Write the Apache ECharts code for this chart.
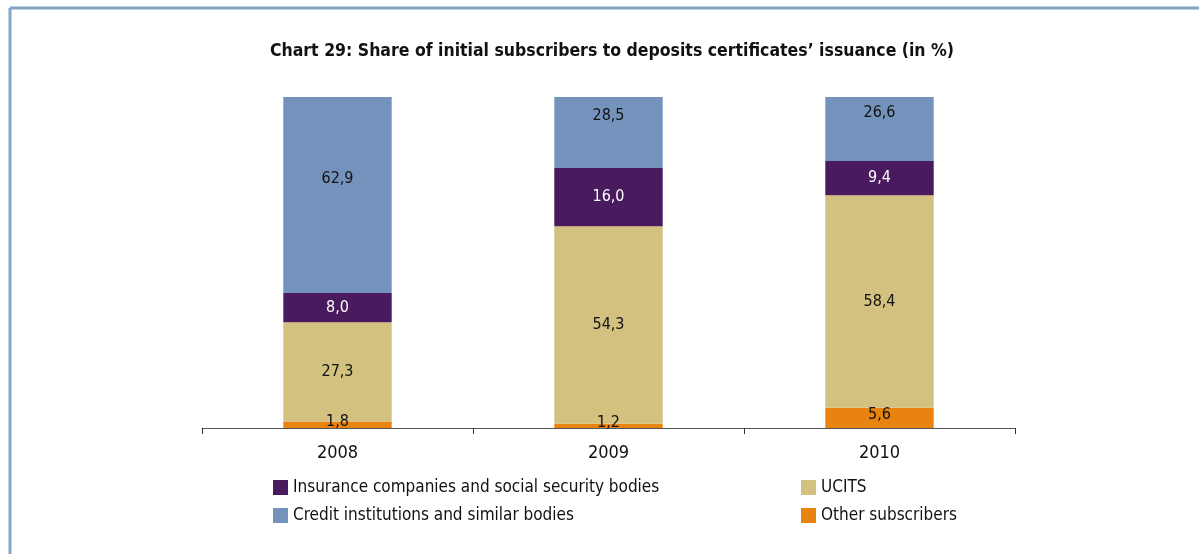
<!DOCTYPE html>
<html>
<head>
<meta charset="utf-8">
<script src="https://cdn.jsdelivr.net/npm/echarts@6/dist/echarts.min.js"></script>
<style>
  html, body { margin: 0; padding: 0; background: #ffffff; }
  #chart { width: 1199px; height: 554px; }
</style>
</head>
<body>
<div id="chart"></div>
<script>
// Years on the category axis
const years = ['2008', '2009', '2010'];

// Shares of initial subscribers (in %), stacked bottom to top
const otherSubscribers = [1.8, 1.2, 5.6];
const ucits = [27.3, 54.3, 58.4];
const insurance = [8.0, 16.0, 9.4];
const creditInstitutions = [62.9, 28.5, 26.6];

// The value axis stops short of 100 %, so the top segment is cut off by the plot area
const axisMax = 91;

const FONT = '"Liberation Sans Narrow", "DejaVu Sans Condensed", "Open Sans", sans-serif';

const fmt = v => v.toFixed(1).replace('.', ',');

function barSeries(name, data, color, labelColor, showLabel, smallOffset) {
  return {
    name: name,
    type: 'bar',
    stack: 'total',
    barWidth: '40%',
    data: data,
    itemStyle: { color: color },
    label: {
      show: showLabel,
      position: 'inside',
      formatter: p => fmt(p.value),
      color: labelColor,
      fontFamily: FONT,
      fontSize: 16,
      offset: smallOffset || [0, 0]
    },
    emphasis: { disabled: true }
  };
}

// Labels of the top segment sit at the middle of the whole (uncut) segment
const creditLabelPoints = years.map((y, i) => {
  const base = otherSubscribers[i] + ucits[i] + insurance[i];
  return [y, base + creditInstitutions[i] / 2, creditInstitutions[i]];
});

const chart = echarts.init(document.getElementById('chart'), null, { renderer: 'canvas' });

chart.setOption({
  animation: false,
  backgroundColor: '#ffffff',
  title: {
    text: 'Chart 29: Share of initial subscribers to deposits certificates\u2019 issuance (in %)',
    left: 607,
    textAlign: 'center',
    top: 37,
    textStyle: { fontFamily: FONT, fontWeight: 'bold', fontSize: 17.5, color: '#111111' }
  },
  grid: { left: 202, top: 97, width: 813, height: 331 },
  xAxis: {
    type: 'category',
    data: years,
    axisLine: { lineStyle: { color: '#555555', width: 1 } },
    axisTick: { show: true, length: 6, lineStyle: { color: '#333333' } },
    axisLabel: { fontFamily: FONT, fontSize: 18, color: '#111111', margin: 16 }
  },
  yAxis: {
    type: 'value',
    min: 0,
    max: axisMax,
    show: false,
    splitLine: { show: false }
  },
  legend: [
    {
      orient: 'vertical',
      left: 268,
      top: 474,
      itemWidth: 15,
      itemHeight: 15,
      itemGap: 11,
      icon: 'rect',
      data: ['Insurance companies and social security bodies', 'Credit institutions and similar bodies'],
      textStyle: { fontFamily: FONT, fontSize: 17, color: '#111111' }
    },
    {
      orient: 'vertical',
      left: 796,
      top: 474,
      itemWidth: 15,
      itemHeight: 15,
      itemGap: 11,
      icon: 'rect',
      data: ['UCITS', 'Other subscribers'],
      textStyle: { fontFamily: FONT, fontSize: 17, color: '#111111' }
    }
  ],
  graphic: [
    { type: 'line', shape: { x1: 10, y1: 8, x2: 1199, y2: 8 }, style: { stroke: '#86a3c8', lineWidth: 3 }, silent: true },
    { type: 'line', shape: { x1: 10, y1: 8, x2: 10, y2: 554 }, style: { stroke: '#86a3c8', lineWidth: 3 }, silent: true }
  ],
  series: [
    barSeries('Other subscribers', otherSubscribers, '#e8830f', '#111111', true, [0, -3]),
    barSeries('UCITS', ucits, '#d3c17f', '#111111', true),
    barSeries('Insurance companies and social security bodies', insurance, '#4a1a5e', '#ffffff', true),
    barSeries('Credit institutions and similar bodies', creditInstitutions, '#7393bd', '#111111', false),
    {
      name: 'creditLabels',
      type: 'scatter',
      symbolSize: 0,
      silent: true,
      data: creditLabelPoints,
      itemStyle: { opacity: 1 },
      label: {
        show: true,
        position: 'inside',
        formatter: p => fmt(p.value[2]),
        color: '#111111',
        opacity: 1,
        fontFamily: FONT,
        fontSize: 16
      },
      emphasis: { disabled: true }
    }
  ]
});
</script>
</body>
</html>
